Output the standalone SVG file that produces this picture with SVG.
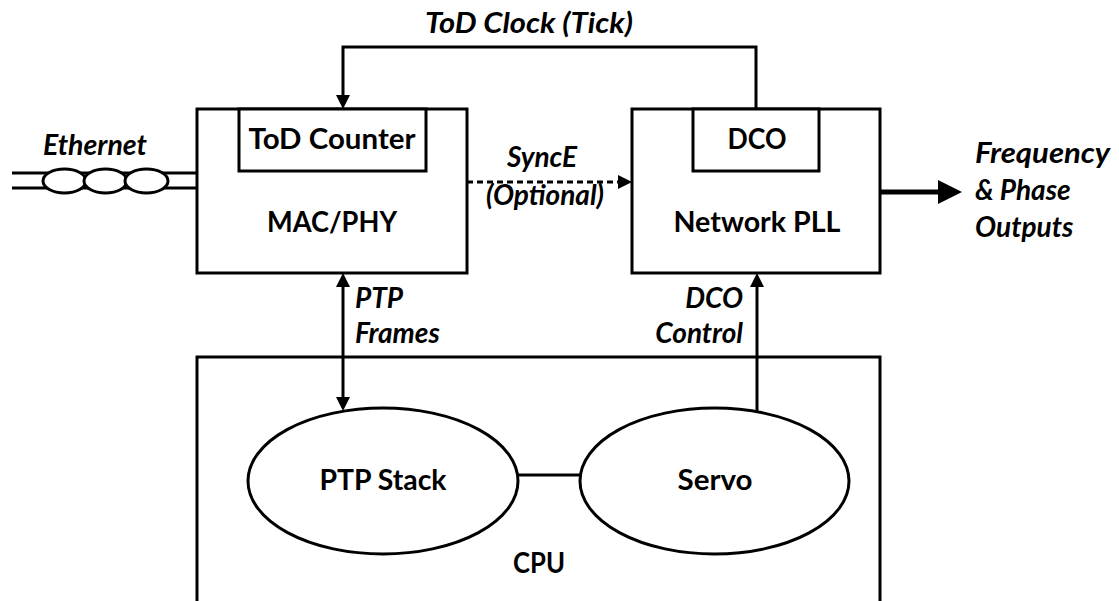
<svg xmlns="http://www.w3.org/2000/svg" width="1119" height="601" viewBox="0 0 1119 601">
  <defs>
    <marker id="arrow" markerUnits="userSpaceOnUse" markerWidth="14" markerHeight="14" refX="0" refY="7" orient="auto-start-reverse">
      <path d="M0,0 L14,7 L0,14 z" fill="#000"/>
    </marker>
    <marker id="arrowBig" markerUnits="userSpaceOnUse" markerWidth="24" markerHeight="24" refX="0" refY="12" orient="auto">
      <path d="M0,0 L24,12 L0,24 z" fill="#000"/>
    </marker>
    <style>
      .box { fill: #fff; stroke: #000; stroke-width: 3; }
      .wire { fill: none; stroke: #000; stroke-width: 3; }
      .lbl { font-family: Lato, "Liberation Sans", sans-serif; font-weight: bold; font-size: 28px; fill: #000; text-anchor: middle; }
      .it { font-family: Lato, "Liberation Sans", sans-serif; font-weight: bold; font-style: italic; font-size: 28px; fill: #000; }
    </style>
  </defs>

  <!-- connectors -->
  <g id="connectors">
    <!-- ToD clock from DCO back to the ToD counter -->
    <path class="wire" d="M756,109 V47 H343 V95" marker-end="url(#arrow)"/>
    <!-- SyncE (optional) -->
    <path class="wire" d="M467,182 H618" stroke-dasharray="6,4" marker-end="url(#arrow)"/>
    <!-- PTP frames, both directions -->
    <path class="wire" d="M343,287 V397" marker-start="url(#arrow)" marker-end="url(#arrow)"/>
    <!-- DCO control -->
    <path class="wire" d="M757,412 V287" marker-end="url(#arrow)"/>
    <!-- PTP stack to servo -->
    <path class="wire" d="M518,475 H580"/>
    <!-- frequency and phase outputs -->
    <path fill="none" stroke="#000" stroke-width="5" d="M880,192 H938" marker-end="url(#arrowBig)"/>
  </g>

  <!-- Ethernet cable -->
  <g id="ethernet">
    <path class="wire" d="M12,173 H197 M12,188 H197"/>
    <ellipse class="box" cx="64.5" cy="181" rx="21.5" ry="12"/>
    <ellipse class="box" cx="105.5" cy="181" rx="21.5" ry="12"/>
    <ellipse class="box" cx="146.5" cy="181" rx="21.5" ry="12"/>
    <text class="it" x="95" y="155" text-anchor="middle" textLength="104" lengthAdjust="spacingAndGlyphs">Ethernet</text>
  </g>

  <!-- MAC/PHY with ToD counter -->
  <g id="macphy">
    <rect class="box" x="197" y="109" width="270" height="164"/>
    <rect class="box" x="239" y="109" width="187" height="62"/>
    <text class="lbl" x="332" y="149" textLength="167" lengthAdjust="spacingAndGlyphs">ToD Counter</text>
    <text class="lbl" x="332" y="232" textLength="130" lengthAdjust="spacingAndGlyphs">MAC/PHY</text>
  </g>

  <!-- Network PLL with DCO -->
  <g id="pll">
    <rect class="box" x="632" y="109" width="248" height="164"/>
    <rect class="box" x="693" y="109" width="126" height="62"/>
    <text class="lbl" x="757" y="149" textLength="59" lengthAdjust="spacingAndGlyphs">DCO</text>
    <text class="lbl" x="757" y="232" textLength="167" lengthAdjust="spacingAndGlyphs">Network PLL</text>
  </g>

  <!-- CPU, open at the bottom -->
  <g id="cpu">
    <path class="wire" d="M197,601 V357 H880 V601"/>
    <text class="lbl" x="539" y="573" textLength="52" lengthAdjust="spacingAndGlyphs">CPU</text>
  </g>

  <g id="ptpstack">
    <ellipse class="box" cx="383" cy="481" rx="135" ry="73"/>
    <text class="lbl" x="383" y="490" textLength="127" lengthAdjust="spacingAndGlyphs">PTP Stack</text>
  </g>

  <g id="servo">
    <ellipse class="box" cx="714.5" cy="481" rx="134.5" ry="73"/>
    <text class="lbl" x="715" y="490" textLength="75" lengthAdjust="spacingAndGlyphs">Servo</text>
  </g>

  <!-- connector labels -->
  <g id="labels">
    <text class="it" x="529" y="33" text-anchor="middle" textLength="208" lengthAdjust="spacingAndGlyphs">ToD Clock (Tick)</text>
    <text class="it" x="542" y="167" text-anchor="middle">SyncE</text>
    <text class="it" x="545" y="205" text-anchor="middle">(Optional)</text>
    <text class="it" x="355" y="308">PTP</text>
    <text class="it" x="355" y="343">Frames</text>
    <text class="it" x="743" y="308" text-anchor="end">DCO</text>
    <text class="it" x="743" y="343" text-anchor="end">Control</text>
    <text class="it" x="975" y="163" textLength="135" lengthAdjust="spacingAndGlyphs">Frequency</text>
    <text class="it" x="975" y="200">&amp; Phase</text>
    <text class="it" x="975" y="237">Outputs</text>
  </g>
</svg>
